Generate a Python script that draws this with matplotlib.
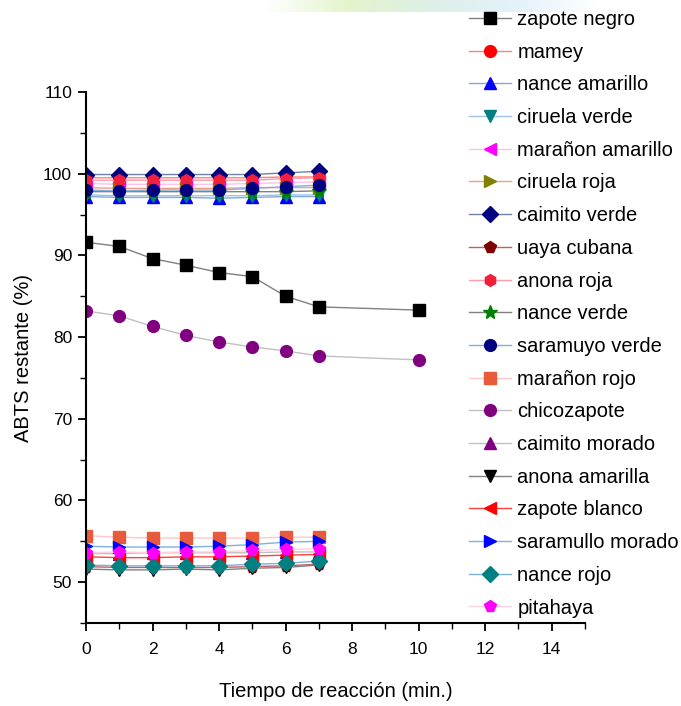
import matplotlib
matplotlib.use("Agg")
import matplotlib.pyplot as plt
import numpy as np
from matplotlib.ticker import MultipleLocator
from matplotlib.colors import LinearSegmentedColormap

plt.rcParams['font.family'] = ['Liberation Sans', 'DejaVu Sans']

t7 = [0, 1, 2, 3, 4, 5, 6, 7]
t10 = [0, 1, 2, 3, 4, 5, 6, 7, 10]

names_series = ["zapote negro", "mamey", "nance amarillo", "ciruela verde", "marañon amarillo",
                "ciruela roja", "caimito verde", "uaya cubana", "anona roja", "nance verde",
                "saramuyo verde", "marañon rojo", "chicozapote", "caimito morado", "anona amarilla",
                "zapote blanco", "saramullo morado", "nance rojo", "pitahaya"]

zapote_negro = [91.6, 91.1, 89.6, 88.8, 87.9, 87.4, 85.0, 83.7, 83.3]
mamey = [99.5, 99.5, 99.5, 99.5, 99.5, 99.5, 99.6, 99.6]
nance_amarillo = [97.2, 97.1, 97.1, 97.1, 97.0, 97.1, 97.2, 97.2]
ciruela_verde = [97.4, 97.3, 97.3, 97.3, 97.3, 97.3, 97.4, 97.4]
maranon_amarillo = [98.8, 98.7, 98.7, 98.7, 98.7, 98.8, 98.9, 99.0]
ciruela_roja = [98.3, 98.2, 98.2, 98.2, 98.2, 98.3, 98.3, 98.3]
caimito_verde = [99.9, 99.9, 99.9, 99.9, 99.9, 99.9, 100.1, 100.3]
uaya_cubana = [51.9, 51.8, 51.8, 51.8, 51.8, 51.9, 52.0, 52.2]
anona_roja = [99.2, 99.2, 99.2, 99.2, 99.2, 99.2, 99.4, 99.5]
nance_verde = [97.8, 97.8, 97.8, 97.8, 97.8, 97.8, 97.8, 97.9]
saramuyo_verde = [98.0, 97.9, 98.0, 98.0, 98.0, 98.2, 98.4, 98.6]
maranon_rojo = [55.7, 55.5, 55.4, 55.4, 55.4, 55.4, 55.5, 55.5]
chicozapote = [83.2, 82.6, 81.3, 80.2, 79.4, 78.8, 78.3, 77.7, 77.2]
caimito_morado = [53.5, 53.5, 53.6, 53.6, 53.6, 53.6, 53.7, 53.7]
anona_amarilla = [51.6, 51.5, 51.5, 51.6, 51.5, 51.7, 51.8, 52.1]
zapote_blanco = [53.1, 53.0, 53.0, 53.1, 53.1, 53.2, 53.3, 53.4]
saramullo_morado = [54.4, 54.3, 54.3, 54.3, 54.4, 54.6, 54.9, 55.0]
nance_rojo = [52.1, 52.0, 52.0, 52.0, 52.0, 52.2, 52.3, 52.6]
pitahaya = [53.6, 53.7, 53.6, 53.7, 53.7, 53.9, 54.0, 54.1]

series = [zapote_negro, mamey, nance_amarillo, ciruela_verde, maranon_amarillo, ciruela_roja,
          caimito_verde, uaya_cubana, anona_roja, nance_verde, saramuyo_verde, maranon_rojo,
          chicozapote, caimito_morado, anona_amarilla, zapote_blanco, saramullo_morado,
          nance_rojo, pitahaya]

styles = [
    ("s", "#000000", "#808080"),
    ("o", "#ff0000", "#ff8080"),
    ("^", "#0000ff", "#7fa8e0"),
    ("v", "#008080", "#9ec3e6"),
    ("<", "#ff00ff", "#ffc0ee"),
    (">", "#808000", "#f0a080"),
    ("D", "#000080", "#7080a8"),
    ("p", "#800000", "#c06060"),
    ("h", "#f0203c", "#ff9aa8"),
    ("*", "#008000", "#808080"),
    ("o", "#000080", "#7fb0e0"),
    ("s", "#e85a3c", "#ffc8c8"),
    ("o", "#800080", "#c0c0c0"),
    ("^", "#800080", "#c0c0c0"),
    ("v", "#000000", "#808080"),
    ("<", "#ff0000", "#ff4040"),
    (">", "#0000ff", "#7fb0e0"),
    ("D", "#008080", "#7fb0e0"),
    ("p", "#ff00ff", "#ffd0e0"),
]

fig = plt.figure(figsize=(6.81, 7.06), dpi=100)

# faint decorative gradient strip at top
gax = fig.add_axes([265/681, 1-12/706, (600-265)/681, 12/706])
cmap = LinearSegmentedColormap.from_list("g", ["#ffffff", "#e4f4cc", "#dcf0e8", "#e4f2fa", "#ffffff"])
gax.imshow(np.linspace(0, 1, 256)[None, :], aspect="auto", cmap=cmap)
gax.axis("off")

ax = fig.add_axes([86/681, 1-623/706, (585-86)/681, (623-92)/706])

handles = []
for name, ys, (m, mc, lc) in zip(names_series, series, styles):
    xs = t10 if len(ys) == 9 else t7
    ms = 10 if m == "*" else 8.5
    h, = ax.plot(xs, ys, color=lc, lw=1.0, marker=m, ms=ms, mfc=mc, mec=mc, label=name)
    handles.append(h)

ax.set_xlim(0, 15)
ax.set_ylim(45, 110)
ax.xaxis.set_major_locator(MultipleLocator(2))
ax.xaxis.set_minor_locator(MultipleLocator(1))
ax.yaxis.set_major_locator(MultipleLocator(10))
ax.yaxis.set_minor_locator(MultipleLocator(5))
for s in ("top", "right"):
    ax.spines[s].set_visible(False)
for s in ("left", "bottom"):
    ax.spines[s].set_linewidth(1.5)
ax.tick_params(which="major", direction="out", length=6, width=1.3, labelsize=12.5)
ax.tick_params(axis="x", which="major", pad=8)
ax.tick_params(axis="y", which="major", pad=4)
ax.tick_params(which="minor", direction="out", length=4, width=1.0)
ax.set_xlabel("Tiempo de reacción (min.)", fontsize=14.5, labelpad=18)
ax.set_ylabel("ABTS restante (%)", fontsize=14.5, labelpad=7)

leg = fig.legend(handles=handles, loc="upper left", bbox_to_anchor=(469/681, 1 - 10/706),
                 frameon=False, fontsize=14.5, handlelength=2.1, handletextpad=0.3,
                 labelspacing=0.68, borderaxespad=0, borderpad=0)

fig.savefig("out.png", dpi=100)
